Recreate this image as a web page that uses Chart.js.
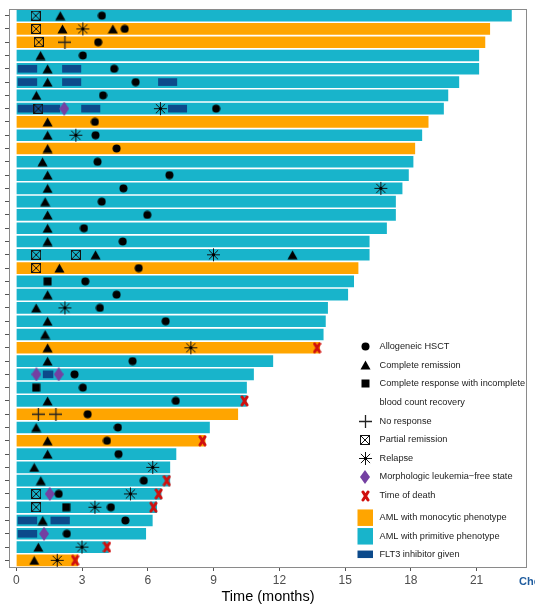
<!DOCTYPE html>
<html>
<head>
<meta charset="utf-8">
<script src="https://cdn.jsdelivr.net/npm/chart.js@4.4.1/dist/chart.umd.min.js"></script>
<style>
  html, body { margin: 0; padding: 0; background: #fff; }
</style>
</head>
<body>
<canvas id="swimmer" width="535" height="611"></canvas>
<script>
// one row per patient, top to bottom
const patients = Array.from({ length: 42 }, (_, i) => String(i + 1));
// M = monocytic phenotype, P = primitive phenotype
const phenotype = ['P','M','M','P','P','P','P','P','M','P','M','P','P','P','P','P','P','P','P','M','P',
                   'P','P','P','P','M','P','P','P','P','M','P','M','P','P','P','P','P','P','P','P','M'];
const followUp = [22.59, 21.6, 21.38, 21.1, 21.1, 20.19, 19.69, 19.49, 18.79, 18.5, 18.18, 18.1, 17.89, 17.6,
                  17.3, 17.3, 16.89, 16.1, 16.1, 15.59, 15.39, 15.12, 14.2, 14.1, 14.0, 13.84, 11.7, 10.82,
                  10.5, 10.49, 10.1, 8.81, 8.61, 7.28, 7.0, 7.0, 6.6, 6.4, 6.2, 5.9, 4.2, 2.79];

// FLT3 inhibitor periods [row, start, end]
const flt3 = [[5,0.07,0.93],[5,2.1,2.94],[6,0.07,0.93],[6,2.1,2.94],[6,6.48,7.32],
              [8,0.07,1.98],[8,2.97,3.81],[8,6.93,7.77],[28,1.22,1.67],[39,0.07,0.93],[39,1.57,2.42],[40,0.07,0.93]];

// events [row, month]
const hsct = [[1,3.9],[2,4.94],[3,3.73],[4,3.03],[5,4.46],[6,5.44],[7,3.95],[8,9.11],[9,3.58],[10,3.61],[11,4.57],
              [12,3.7],[13,6.98],[14,4.88],[15,3.89],[16,5.97],[17,3.08],[18,4.85],[20,5.58],[21,3.14],[22,4.57],
              [23,3.81],[24,6.81],[27,5.3],[28,2.65],[29,3.03],[30,7.27],[31,3.25],[32,4.63],[33,4.13],[34,4.66],
              [36,5.81],[37,1.93],[38,4.31],[39,4.97],[40,2.3]];
const completeRemission = [[1,2.0],[2,2.1],[2,4.4],[4,1.1],[5,1.42],[6,1.42],[7,0.91],[9,1.42],[10,1.42],[11,1.42],
              [12,1.19],[13,1.42],[14,1.42],[15,1.31],[16,1.42],[17,1.42],[18,1.42],[19,3.61],[19,12.6],[20,1.96],
              [22,1.42],[23,0.9],[24,1.42],[25,1.31],[26,1.42],[27,1.42],[30,1.42],[32,0.9],[33,1.42],[34,1.42],
              [35,0.81],[36,1.11],[39,1.2],[41,1.0],[42,0.81]];
const crIncomplete = [[21,1.42],[29,0.9],[38,2.27]];
const noResponse = [[3,2.21],[31,1.0],[31,1.8]];
const partialRemission = [[1,0.88],[2,0.9],[3,1.02],[8,1.0],[19,0.9],[19,2.71],[20,0.9],[37,0.9],[38,0.9]];
const relapse = [[2,3.03],[8,6.57],[10,2.71],[14,16.63],[19,8.99],[23,2.21],[26,7.96],[35,6.22],[37,5.2],
              [38,3.58],[41,2.99],[42,1.86]];
const mlfs = [[8,2.18],[28,0.91],[28,1.93],[37,1.52],[40,1.26]];
const death = [[26,13.72],[30,10.41],[33,8.49],[36,6.86],[37,6.49],[38,6.25],[41,4.13],[42,2.68]];

const xTicks = [0, 3, 6, 9, 12, 15, 18, 21];

const ORANGE = '#FFA500';
const CYAN = '#18B4CB';
const NAVY = '#0C4A8B';

// marker images
function makeIcon(w, h, draw) {
  const c = document.createElement('canvas');
  c.width = w;
  c.height = h;
  draw(c.getContext('2d'), w, h);
  return c;
}
const icons = {
  circle: makeIcon(9, 9, g => { g.beginPath(); g.arc(4.5, 4.5, 4, 0, Math.PI * 2); g.fill(); }),
  triangle: makeIcon(11, 10, g => {
    g.beginPath(); g.moveTo(5.5, 0.5); g.lineTo(10.5, 9.5); g.lineTo(0.5, 9.5); g.closePath(); g.fill();
  }),
  square: makeIcon(9, 9, g => g.fillRect(0.5, 0.5, 8, 8)),
  plus: makeIcon(13, 13, g => {
    g.strokeStyle = '#222'; g.lineWidth = 1.3;
    g.beginPath(); g.moveTo(0, 6.5); g.lineTo(13, 6.5); g.moveTo(6.5, 0); g.lineTo(6.5, 13); g.stroke();
  }),
  boxX: makeIcon(10, 10, g => {
    g.strokeStyle = '#111'; g.lineWidth = 1;
    g.strokeRect(0.5, 0.5, 9, 9);
    g.beginPath(); g.moveTo(1, 1); g.lineTo(9, 9); g.moveTo(9, 1); g.lineTo(1, 9); g.stroke();
  }),
  star: makeIcon(15, 15, g => {
    g.strokeStyle = '#111'; g.lineWidth = 1;
    g.beginPath();
    for (let k = 0; k < 4; k++) {
      const a = k * Math.PI / 4;
      g.moveTo(7.5 + 6.5 * Math.cos(a), 7.5 + 6.5 * Math.sin(a));
      g.lineTo(7.5 - 6.5 * Math.cos(a), 7.5 - 6.5 * Math.sin(a));
    }
    g.stroke();
    g.beginPath(); g.arc(7.5, 7.5, 1.8, 0, Math.PI * 2); g.fill();
  }),
  diamond: makeIcon(10, 14, g => {
    g.fillStyle = '#7440A2';
    g.beginPath(); g.moveTo(5, 0); g.lineTo(10, 7); g.lineTo(5, 14); g.lineTo(0, 7); g.closePath(); g.fill();
  }),
  death: makeIcon(9, 12, g => {
    g.strokeStyle = '#D0100E'; g.lineWidth = 3; g.lineCap = 'round';
    g.beginPath(); g.moveTo(2, 2); g.lineTo(7, 10); g.moveTo(7, 2); g.lineTo(2, 10); g.stroke();
  })
};

function events(list, icon) {
  return {
    type: 'scatter',
    data: list.map(([r, t]) => ({ x: t, y: String(r) })),
    pointStyle: icon,
    pointRadius: 5,
    order: 0
  };
}

// split FLT3 periods into layers so each row can hold several segments
const flt3Layers = [];
flt3.forEach(([r, a, b]) => {
  let layer = flt3Layers.find(l => l[r - 1] == null);
  if (!layer) { layer = patients.map(() => null); flt3Layers.push(layer); }
  layer[r - 1] = [a, b];
});

const legendItems = [
  { icon: icons.circle, text: 'Allogeneic HSCT' },
  { icon: icons.triangle, text: 'Complete remission' },
  { icon: icons.square, text: 'Complete response with incomplete' },
  { icon: null, text: 'blood count recovery' },
  { icon: icons.plus, text: 'No response' },
  { icon: icons.boxX, text: 'Partial remission' },
  { icon: icons.star, text: 'Relapse' },
  { icon: icons.diamond, text: 'Morphologic leukemia\u2212free state' },
  { icon: icons.death, text: 'Time of death' }
];
const legendFills = [
  { color: ORANGE, text: 'AML with monocytic phenotype', h: 16.5 },
  { color: CYAN, text: 'AML with primitive phenotype', h: 16.5 },
  { color: NAVY, text: 'FLT3 inhibitor given', h: 7.5 }
];

const frameAndLegend = {
  id: 'frameAndLegend',
  afterDraw(chart) {
    const { ctx, chartArea: a } = chart;
    ctx.save();
    ctx.strokeStyle = '#8a8a8a';
    ctx.lineWidth = 1;
    ctx.strokeRect(a.left + 0.5, a.top + 0.5, a.right - a.left - 1, a.bottom - a.top);

    ctx.font = '9.2px "Liberation Sans", Arial, sans-serif';
    ctx.fillStyle = '#1a1a1a';
    ctx.textBaseline = 'middle';
    const iconX = 365, textX = 379.5;
    let y = 346.7;
    legendItems.forEach(it => {
      if (it.icon) ctx.drawImage(it.icon, Math.round(iconX - it.icon.width / 2), Math.round(y - it.icon.height / 2));
      ctx.fillStyle = '#1a1a1a';
      ctx.fillText(it.text, textX, y);
      y += 18.6;
    });
    const ys = [517.7, 536.3, 554.3];
    legendFills.forEach((f, i) => {
      ctx.fillStyle = f.color;
      ctx.fillRect(357.5, ys[i] - f.h / 2, 15.5, f.h);
      ctx.fillStyle = '#1a1a1a';
      ctx.fillText(f.text, textX, ys[i]);
    });

    ctx.font = 'bold 11px "Liberation Sans", Arial, sans-serif';
    ctx.fillStyle = '#1F5C9E';
    ctx.fillText('Check for updates', 519, 581.5);
    ctx.restore();
  }
};

new Chart(document.getElementById('swimmer'), {
  type: 'bar',
  data: {
    labels: patients,
    datasets: [
      events(death, icons.death),
      events(relapse, icons.star),
      events(hsct, icons.circle),
      events(completeRemission, icons.triangle),
      events(crIncomplete, icons.square),
      events(noResponse, icons.plus),
      events(partialRemission, icons.boxX),
      events(mlfs, icons.diamond),
      ...flt3Layers.map(layer => ({
        type: 'bar',
        indexAxis: 'y',
        data: layer,
        backgroundColor: NAVY,
        barThickness: 7,
        grouped: false,
        order: 1
      })),
      {
        type: 'bar',
        indexAxis: 'y',
        data: followUp.map(v => [0, v]),
        backgroundColor: phenotype.map(p => (p === 'M' ? ORANGE : CYAN)),
        barThickness: 11,
        grouped: false,
        order: 2
      }
    ]
  },
  options: {
    responsive: false,
    animation: false,
    events: [],
    layout: { padding: { top: 9, right: 8, left: 0, bottom: 0 } },
    plugins: { legend: { display: false }, tooltip: { enabled: false } },
    scales: {
      x: {
        type: 'linear',
        position: 'bottom',
        bounds: 'data',
        offset: false,
        min: -0.34,
        max: 23.3,
        afterBuildTicks: s => { s.ticks = xTicks.map(v => ({ value: v })); },
        afterFit: s => { s.height = 44; },
        grid: { drawOnChartArea: false, offset: false, tickLength: 4, color: '#555' },
        border: { display: false },
        ticks: {
          padding: 2,
          color: '#4d4d4d',
          font: { family: '"Liberation Sans", Arial, sans-serif', size: 12 }
        },
        title: {
          display: true,
          text: 'Time (months)',
          color: '#000',
          padding: { top: 0, bottom: 5.6 },
          font: { family: '"Liberation Sans", Arial, sans-serif', size: 14.5 }
        }
      },
      y: {
        type: 'category',
        position: 'left',
        offset: true,
        afterFit: s => { s.width = 9; },
        grid: { drawOnChartArea: false, offset: false, tickLength: 4, color: '#555' },
        border: { display: false },
        ticks: { display: false }
      }
    }
  },
  plugins: [frameAndLegend]
});
</script>
</body>
</html>
